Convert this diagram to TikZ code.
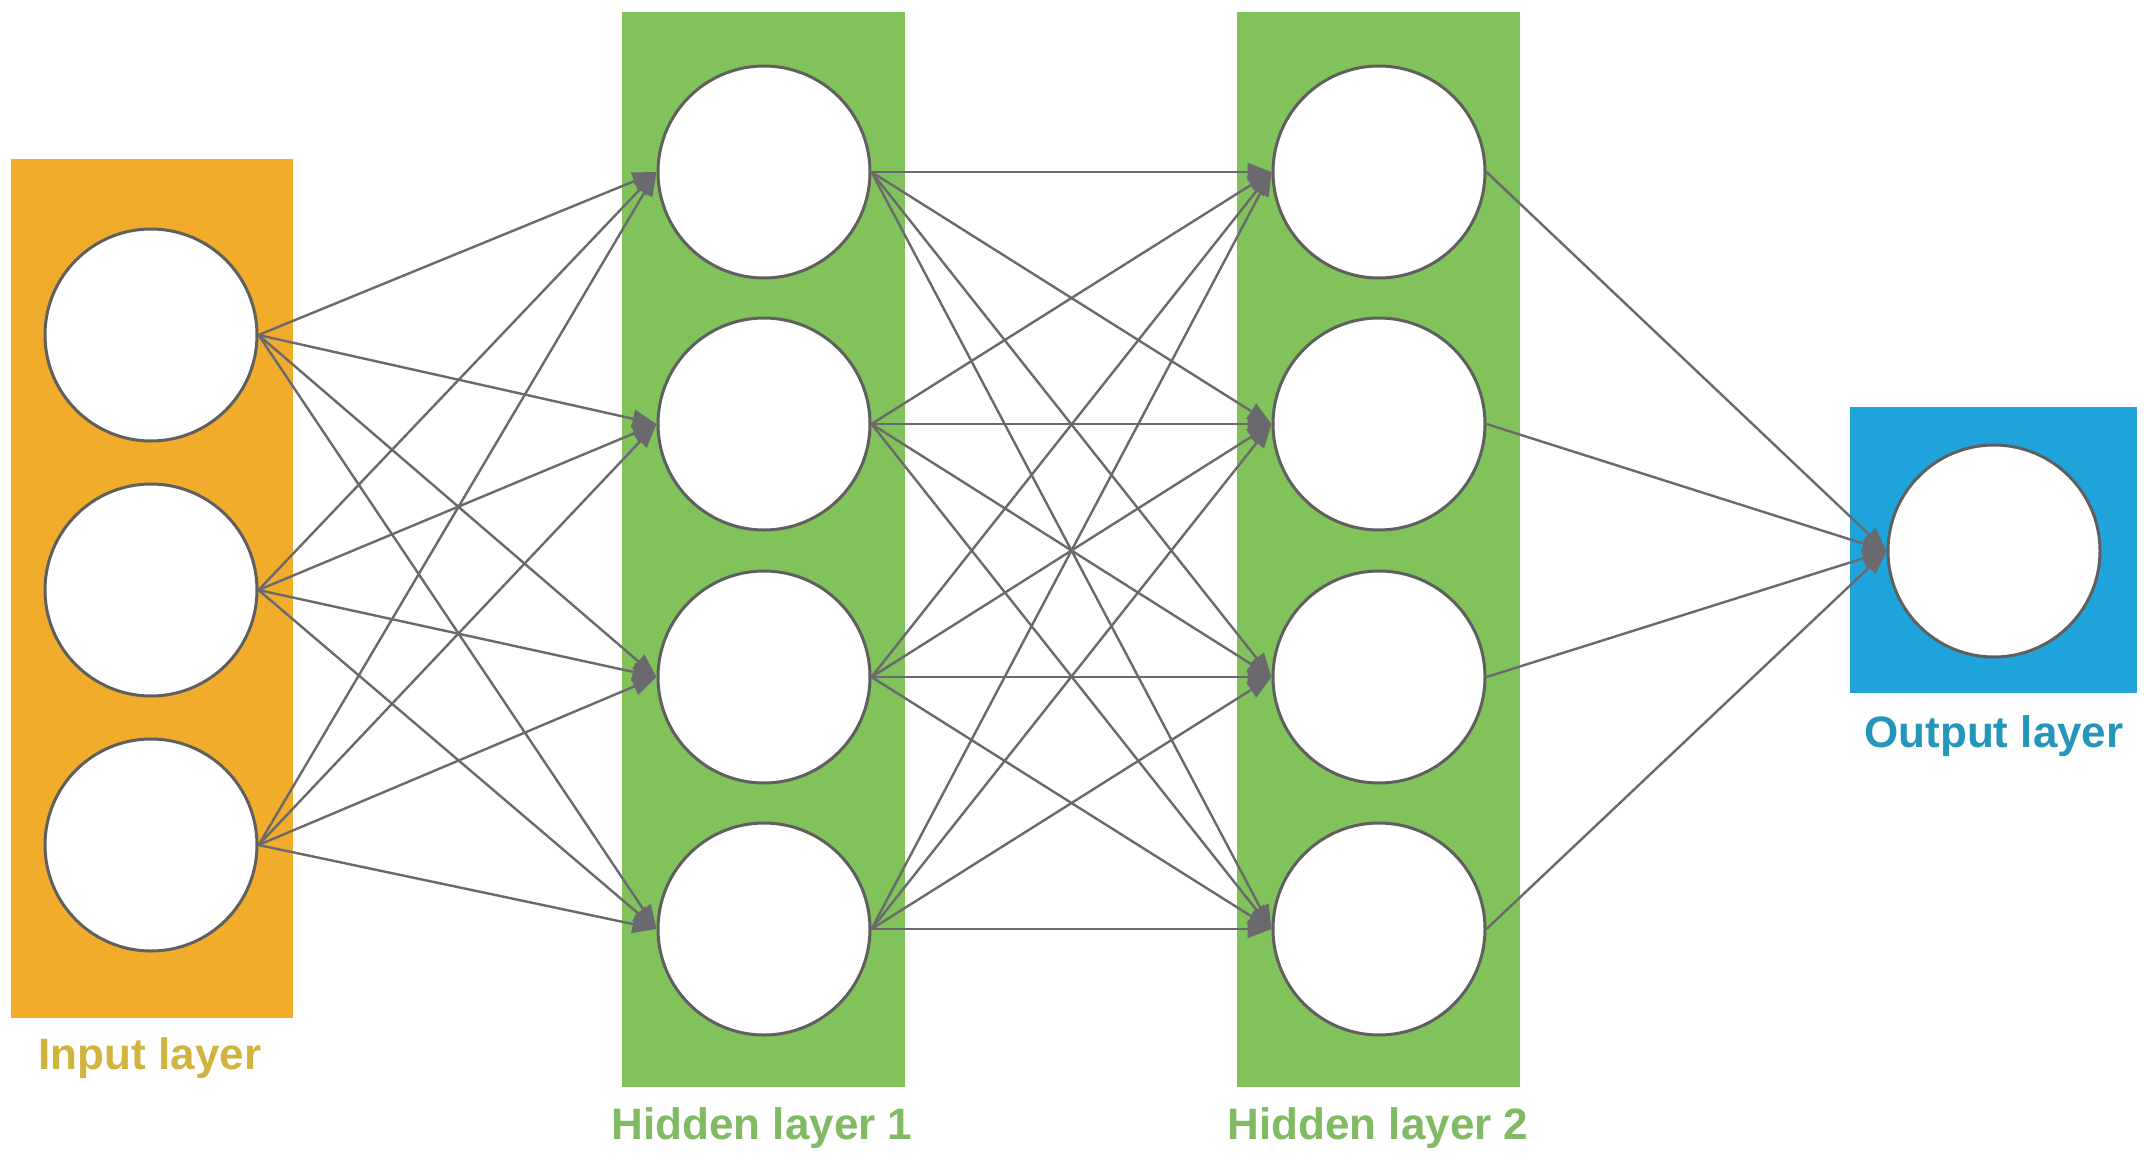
\documentclass[tikz,border=0pt]{standalone}
\usepackage{fontspec}
\setmainfont{Liberation Sans}
\usetikzlibrary{arrows.meta}
\definecolor{inorange}{RGB}{241,172,44}
\definecolor{hidgreen}{RGB}{130,194,90}
\definecolor{outblue}{RGB}{30,163,218}
\definecolor{inlabel}{RGB}{208,180,62}
\definecolor{hidlabel}{RGB}{128,186,98}
\definecolor{outlabel}{RGB}{36,150,186}
\definecolor{edgegray}{RGB}{105,105,110}
\definecolor{rimgray}{RGB}{95,95,95}
\tikzset{
  neuron/.style={circle, draw=rimgray, line width=3pt, fill=white, minimum size=212pt, inner sep=0pt},
  conn/.style={draw=edgegray, line width=2.4pt, -{Triangle[length=24pt,width=18pt]}, color=edgegray},
  lbl/.style={font=\fontsize{44}{50}\selectfont\bfseries, anchor=base, inner sep=0pt}
}
\begin{document}
\begin{tikzpicture}[x=1pt,y=-1pt]
\useasboundingbox (0,0) rectangle (2144,1154);
\fill[white] (0,0) rectangle (2144,1154);
% layer boxes
\fill[inorange] (11,159) rectangle (293,1018);
\fill[hidgreen] (622,12) rectangle (905,1087);
\fill[hidgreen] (1237,12) rectangle (1520,1087);
\fill[outblue] (1850,407) rectangle (2137,693);
% neurons
\node[neuron] (i1) at (151,335) {};
\node[neuron] (i2) at (151,590) {};
\node[neuron] (i3) at (151,845) {};
\node[neuron] (h1) at (764,172) {};
\node[neuron] (h2) at (764,424) {};
\node[neuron] (h3) at (764,677) {};
\node[neuron] (h4) at (764,929) {};
\node[neuron] (g1) at (1379,172) {};
\node[neuron] (g2) at (1379,424) {};
\node[neuron] (g3) at (1379,677) {};
\node[neuron] (g4) at (1379,929) {};
\node[neuron] (o) at (1994,551) {};
% connectors
\foreach \a in {i1,i2,i3}{
  \foreach \b in {h1,h2,h3,h4}{
    \draw[conn] (\a.east) -- (\b.west);
  }
}
\foreach \a in {h1,h2,h3,h4}{
  \foreach \b in {g1,g2,g3,g4}{
    \draw[conn] (\a.east) -- (\b.west);
  }
}
\foreach \a in {g1,g2,g3,g4}{
  \draw[conn] (\a.east) -- (o.west);
}
% labels
\node[lbl, text=inlabel] (lin) at (150,1069) {Input layer};
\node[lbl, text=hidlabel] (lh1) at (762,1139) {Hidden layer 1};
\node[lbl, text=hidlabel] (lh2) at (1378,1139) {Hidden layer 2};
\node[lbl, text=outlabel] (lout) at (1994,747) {Output layer};
\end{tikzpicture}
\end{document}
